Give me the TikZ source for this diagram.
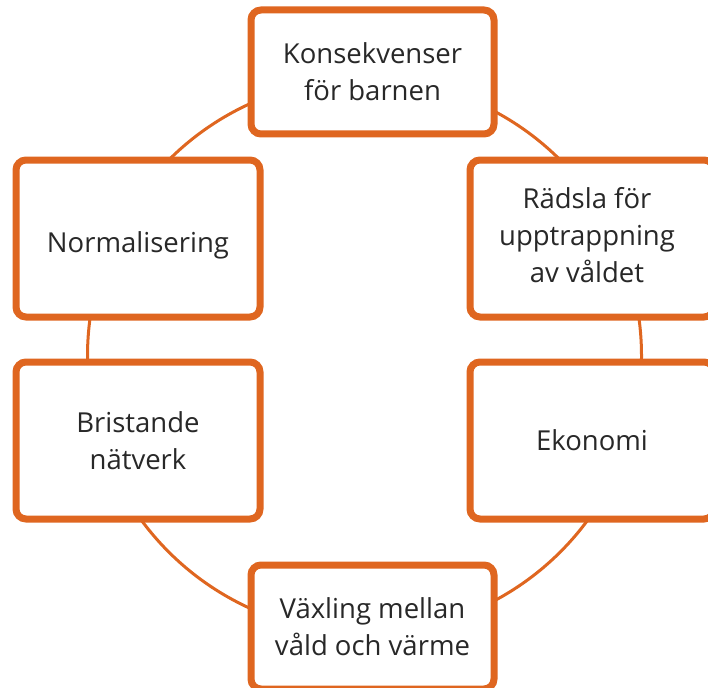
\documentclass[tikz,border=0pt]{standalone}
\usepackage{fontspec}
\setmainfont{Open Sans}
\definecolor{accent}{RGB}{223,102,32}
\definecolor{ink}{RGB}{40,40,40}
\begin{document}
\begin{tikzpicture}[x=1pt,y=-1pt,
  box/.style={draw=accent, line width=7pt, rounded corners=10pt, fill=white,
    inner sep=0pt, align=center, text=ink,
    font=\fontsize{27.5}{37}\selectfont},
  wide/.style={minimum width=244pt, minimum height=157pt},
  flat/.style={minimum width=243pt, minimum height=124pt},
  ring/.style={draw=accent, line width=3pt}]
\useasboundingbox (0,0) rectangle (708,687);
\clip (0,0) rectangle (708,687);

% the cycle running through all six factors
\coordinate (c) at (364.5,356);
\draw[ring] (c) circle [radius=277pt];

% factor boxes
\node[box, flat] (kons) at (372.5,72)  {Konsekvenser\\för barnen};
\node[box, wide] (norm) at (138,238.5)
  {\raisebox{-7pt}[\height][\depth]{Normalisering}};
\node[box, wide] (rads) at (592,238.5)
  {\hspace*{-10pt}\begin{tabular}{@{}c@{}}Rädsla för\\upptrappning\\av våldet\end{tabular}};
\node[box, wide] (bris) at (138,440.5) {Bristande\\nätverk};
\node[box, wide] (ekon) at (592,440.5) {Ekonomi};
\node[box, flat] (vaxl) at (372.5,627) {Växling mellan\\våld och värme};
\end{tikzpicture}
\end{document}
